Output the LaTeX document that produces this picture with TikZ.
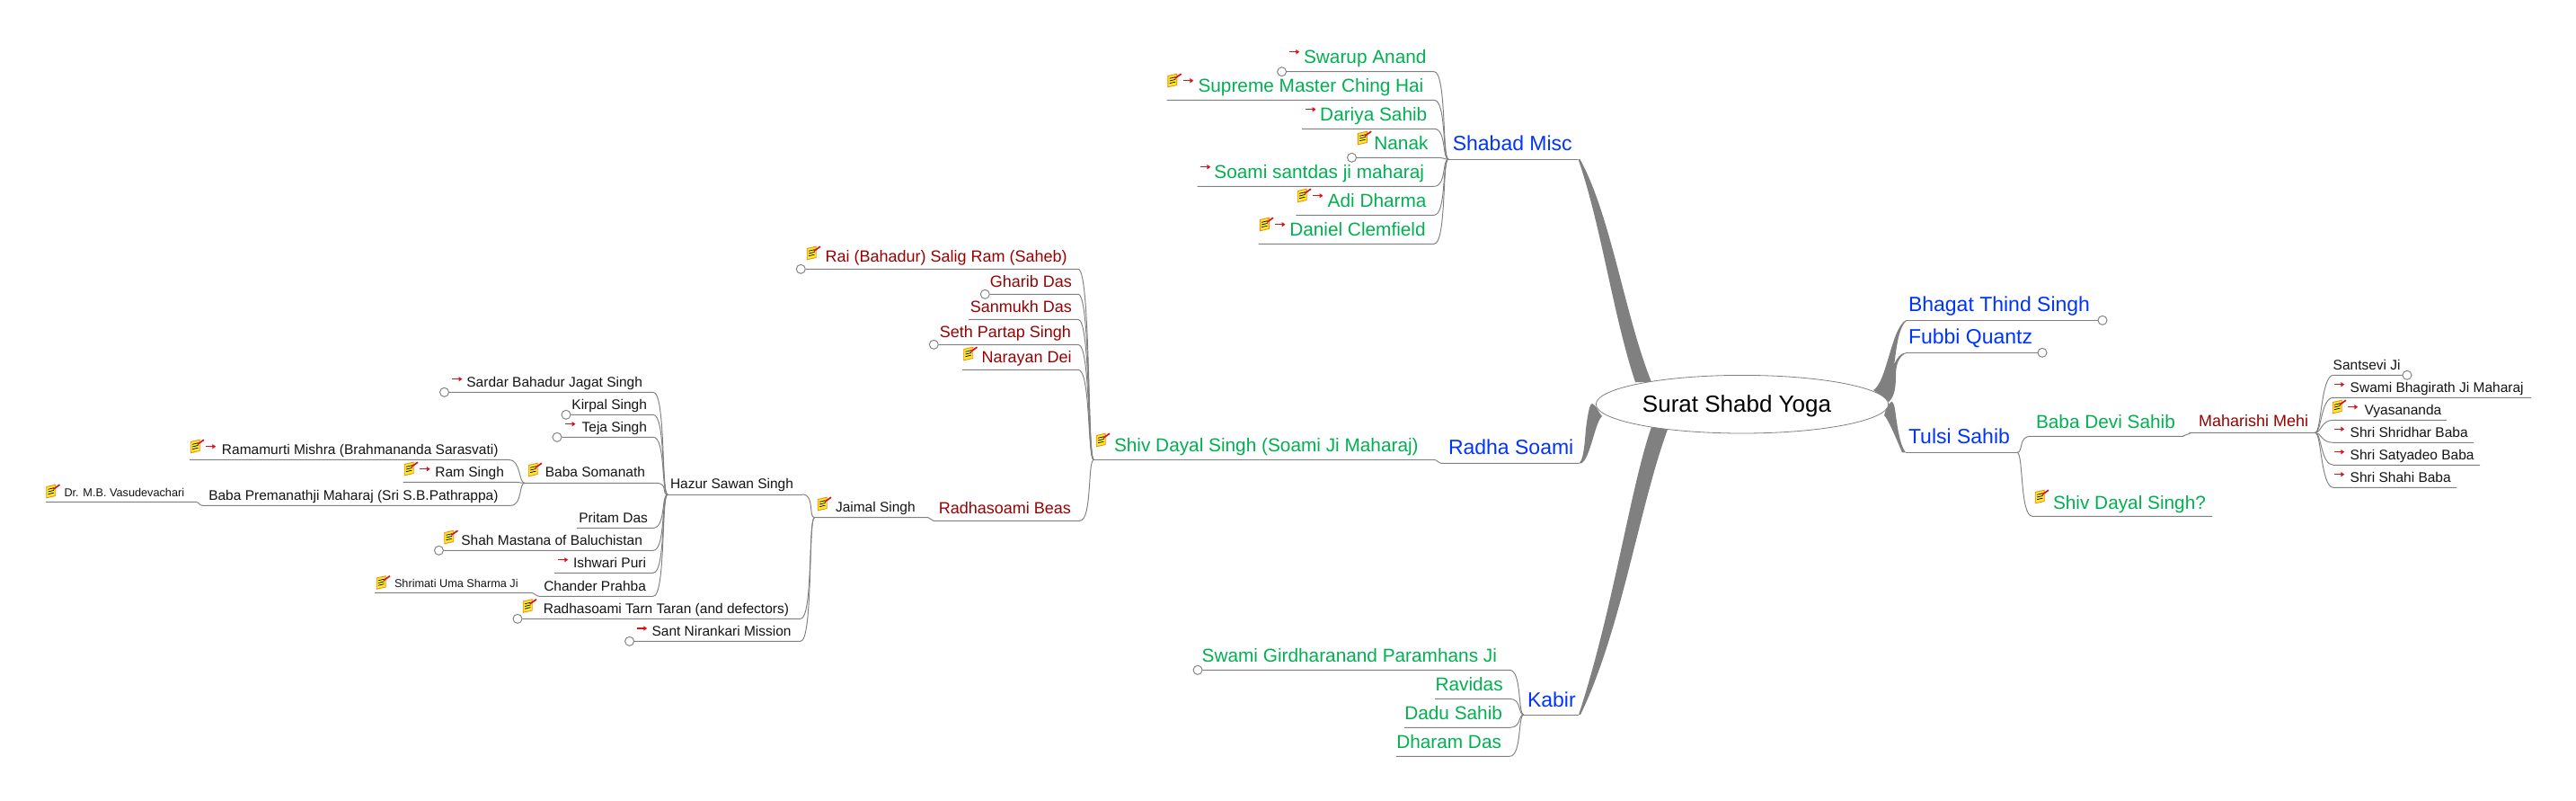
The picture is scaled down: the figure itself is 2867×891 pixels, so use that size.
\documentclass[tikz,border=0pt]{standalone}
\usepackage{fontspec}
\setmainfont{Liberation Sans}
\usetikzlibrary{shapes.geometric}
\definecolor{lnk}{RGB}{128,128,128}
\definecolor{tb}{RGB}{0,51,255}
\definecolor{tg}{RGB}{0,176,80}
\definecolor{tr}{RGB}{153,0,0}
\definecolor{tk}{RGB}{20,20,20}
\definecolor{noteY}{RGB}{255,235,40}
\definecolor{noteO}{RGB}{240,140,20}
\definecolor{pen}{RGB}{215,20,30}
\tikzset{
  link/.style={draw=lnk,line width=0.95pt},
  swoosh/.style={fill=lnk,draw=none},
  sw/.style={out=0,in=180,out distance=14pt,in distance=7pt},
  swr/.style={out=0,in=180,out distance=7pt,in distance=14pt},
  bump/.style={out=0,in=180,out distance=3pt,in distance=3pt},
  endc/.style={circle,draw=lnk,fill=white,line width=0.95pt,minimum size=10pt,inner sep=0pt},
  lbl/.style={inner sep=0pt,outer sep=0pt},
  le/.style={lbl,anchor=base east},
  ri/.style={lbl,anchor=base west},
  tblue/.style={text=tb,font=\fontsize{23}{23}\selectfont},
  tgreen/.style={text=tg,font=\fontsize{20.8}{20.8}\selectfont},
  tred/.style={text=tr,font=\fontsize{18}{18}\selectfont},
  tblack/.style={text=tk,font=\fontsize{15.5}{15.5}\selectfont},
  tsmall/.style={text=tk,font=\fontsize{12.7}{12.7}\selectfont},
  note/.pic={
    \filldraw[fill=noteY,draw=noteO,line width=0.9pt] (-7.3,-5)--(2.7,-7.3)--(2.7,5)--(-7.3,7.3)--cycle;
    \draw[black,line width=0.7pt] (-5.5,-2.2)--(1,-3.8) (-5.5,0.5)--(1,-1.1) (-5.5,3.2)--(1,1.6);
    \draw[pen,line width=1.7pt] (0.3,-2.3)--(7.5,-7.3);
  },
  redarr/.pic={
    \draw[pen,line width=1.2pt] (-5.7,0)--(3,0);
    \fill[pen] (1.8,-2.7)--(5.7,0)--(1.8,2.7)--cycle;
  }
}
% name, start x, end x, y, junction
\newcommand{\lbranch}[5]{\coordinate (#1S) at (#2,#4); \coordinate (#1E) at (#3,#4);
  \draw[link] (#1S) -- (#1E) to[sw] (#5);}
% same, with an open circle at the free end
\newcommand{\cbranch}[5]{\node[endc] (#1C) at (#2,#4) {}; \coordinate (#1E) at (#3,#4);
  \draw[link] (#1C) -- (#1E) to[sw] (#5);}
% junction, start x, end x, y, name
\newcommand{\rbranch}[5]{\coordinate (#5S) at (#2,#4); \coordinate (#5E) at (#3,#4);
  \draw[link] (#1) to[swr] (#5S) -- (#5E);}
\begin{document}
\begin{tikzpicture}[x=1pt,y=-1pt]
\useasboundingbox (0,0) rectangle (2867,891);
% junctions
\coordinate (jShabad) at (1612,177);
\coordinate (tShabad) at (1756.4,177);
\coordinate (jKabir) at (1696,795);
\coordinate (tKabir) at (1757,795);
\coordinate (jShiv) at (1217.3,511.5);
\coordinate (bShivA) at (1596.5,511.5);
\coordinate (bShivB) at (1604,515.3);
\coordinate (tRadha) at (1757.5,515.3);
\coordinate (jJaimal) at (906.5,575.7);
\coordinate (bBeasA) at (1033,575.7);
\coordinate (bBeasB) at (1039,579.3);
\coordinate (bBeasC) at (1201.7,579.3);
\coordinate (jHazur) at (743,550);
\coordinate (jSoma) at (584,537.3);
\coordinate (bSomaE) at (730,537.3);
\coordinate (bHazurE) at (893,550);
\coordinate (tBhagat) at (2121,356.3);
\coordinate (tFubbi) at (2121,392.3);
\coordinate (tTulsi) at (2121,503.3);
\coordinate (jTulsi) at (2245,503.3);
\coordinate (bDeviA) at (2430,485.3);
\coordinate (bDeviB) at (2438,481.3);
\coordinate (jMehi) at (2576.7,481.3);

% swooshes from the central ellipse
\fill[swoosh] (tShabad) .. controls (1782,250) and (1795,350) .. (1820,425) -- (1838,425) .. controls (1808,350) and (1793,240) .. (1758.4,177) -- cycle;
\fill[swoosh] (1838,475) .. controls (1815,540) and (1795,680) .. (tKabir) -- (1759,795) .. controls (1805,700) and (1825,560) .. (1857,475) -- cycle;
\fill[swoosh] (tRadha) .. controls (1764,510) and (1764,480) .. (1766,470) .. controls (1768,455) and (1770,449) .. (1772,449) .. controls (1776,450) and (1778,457) .. (1783,463) .. controls (1775,470) and (1770,510) .. (1760,515.3) -- cycle;
\fill[swoosh] (2085,434) .. controls (2100,425) and (2105,365) .. (tBhagat) -- (2123,356.3) .. controls (2112,362) and (2110,395) .. (2108,406) .. controls (2111,398) and (2115,393) .. (tFubbi) -- (2123,392.3) .. controls (2111,396) and (2110,410) .. (2110,418) .. controls (2110,432) and (2108,442) .. (2102,447) -- cycle;
\fill[swoosh] (2097,462) .. controls (2101,466) and (2108,482) .. (2117,503.3) -- (tTulsi) .. controls (2114,495) and (2111,470) .. (2109,455) .. controls (2108,450) and (2107,447) .. (2105,446.7) -- (2100,452) -- cycle;

% main branches
\draw[link] (jShabad) -- (tShabad);
\draw[link] (jKabir) -- (tKabir);
\draw[link] (jShiv) -- (bShivA) to[bump] (bShivB) -- (tRadha);
\draw[link] (jJaimal) -- (bBeasA) to[bump] (bBeasB) -- (bBeasC) to[sw] (jShiv);
\draw[link] (bHazurE) to[sw] (jJaimal);
\draw[link] (jHazur) -- (bHazurE);
\draw[link] (jSoma) -- (bSomaE) to[sw] (jHazur);
\draw[link] (jMehi) -- (bDeviB) to[bump] (bDeviA);
\draw[link] (tTulsi) -- (jTulsi);
\rbranch{jTulsi}{2260}{2430}{485.3}{bDevi}
\rbranch{jTulsi}{2262}{2462}{574.3}{bShivQ}
% Shabad Misc
\cbranch{swarup}{1426.6}{1596}{79.7}{jShabad}
\lbranch{supreme}{1298.5}{1596}{111.3}{jShabad}
\lbranch{dariya}{1449}{1596}{143.3}{jShabad}
\cbranch{nanak}{1504.5}{1596}{175.3}{jShabad}
\lbranch{soami}{1332.5}{1596}{207.3}{jShabad}
\lbranch{adi}{1442.4}{1596}{239.3}{jShabad}
\lbranch{daniel}{1400.5}{1596}{271.3}{jShabad}
% Shiv Dayal
\cbranch{rai}{891.3}{1200}{299.3}{jShiv}
\cbranch{gharib}{1096.3}{1200}{327.3}{jShiv}
\lbranch{sanmukh}{1078}{1200}{355.3}{jShiv}
\cbranch{seth}{1039.3}{1200}{383.3}{jShiv}
\lbranch{narayan}{1071}{1200}{411.3}{jShiv}
% Jaimal
\cbranch{tarn}{576}{891}{688.3}{jJaimal}
\cbranch{sant}{700.6}{891}{713.3}{jJaimal}
% Hazur
\cbranch{sardar}{494.5}{727}{436.3}{jHazur}
\cbranch{kirpal}{630}{727}{461.3}{jHazur}
\cbranch{teja}{620}{727}{486.3}{jHazur}
\lbranch{pritam}{642}{727}{587.3}{jHazur}
\cbranch{shah}{488.5}{727}{612.3}{jHazur}
\lbranch{ishwari}{617}{727}{637.3}{jHazur}
\lbranch{chander}{600}{727}{663.3}{jHazur}
\coordinate (umaS) at (417,659.3); \coordinate (umaE) at (591,659.3);
\draw[link] (umaS) -- (umaE) to[bump] (chanderS);
% Somanath
\lbranch{ramamurti}{211}{566}{511.3}{jSoma}
\lbranch{ramsingh}{448.5}{568}{536.3}{jSoma}
\lbranch{prema}{225}{568}{562.3}{jSoma}
\coordinate (drS) at (51,558.3); \coordinate (drE) at (218,558.3);
\draw[link] (drS) -- (drE) to[bump] (premaS);
% Kabir
\cbranch{girdhar}{1333}{1680}{745.3}{jKabir}
\lbranch{ravidas}{1597}{1680}{777.3}{jKabir}
\lbranch{dadu}{1563}{1680}{809.3}{jKabir}
\lbranch{dharam}{1554}{1680}{841.3}{jKabir}
% Mehi
\coordinate (mEnd) at (2597,417.3);
\node[endc] (santseviC) at (2679,417.3) {};
\draw[link] (jMehi) to[swr] (mEnd) -- (santseviC);
\rbranch{jMehi}{2597}{2817}{442.3}{bhagirath}
\rbranch{jMehi}{2597}{2723}{467.3}{vyasa}
\rbranch{jMehi}{2597}{2753}{492.3}{shridhar}
\rbranch{jMehi}{2597}{2760}{517.3}{satyadeo}
\rbranch{jMehi}{2597}{2734}{542.3}{shahi}
% right circles
\node[endc] (bhagatC) at (2340,356.3) {};
\node[endc] (fubbiC) at (2273,392.3) {};
\draw[link] (tBhagat) -- (bhagatC);
\draw[link] (tFubbi) -- (fubbiC);

% central topic
\node[ellipse,draw=lnk,fill=white,line width=0.8pt,minimum width=325.4pt,minimum height=64.6pt,inner sep=0pt] (hub) at (1939,449.7) {};
\node[lbl,text=black,font=\fontsize{26}{26}\selectfont,anchor=base] (hubText) at (1933,458.5) {Surat Shabd Yoga};

% blue labels
\node[tblue,ri] (lShabad) at (1616.8,167) {Shabad Misc};
\node[tblue,ri] (lRadha) at (1612,505.7) {Radha Soami};
\node[tblue,ri] (lKabir) at (1700,786) {Kabir};
\node[tblue,ri] (lBhagat) at (2124,346.7) {Bhagat Thind Singh};
\node[tblue,ri] (lFubbi) at (2124,382.7) {Fubbi Quantz};
\node[tblue,ri] (lTulsi) at (2124,493.7) {Tulsi Sahib};
% green labels
\node[tgreen,le] (lSwarup) at (1587.5,70.7) {Swarup Anand};
\node[tgreen,le] (lSupreme) at (1584.4,102.3) {Supreme Master Ching Hai};
\node[tgreen,le] (lDariya) at (1588.3,134.3) {Dariya Sahib};
\node[tgreen,le] (lNanak) at (1589.5,166.3) {Nanak};
\node[tgreen,le] (lSoami) at (1585,198.3) {Soami santdas ji maharaj};
\node[tgreen,le] (lAdi) at (1587.5,230.3) {Adi Dharma};
\node[tgreen,le] (lDaniel) at (1586.7,262.3) {Daniel Clemfield};
\node[tgreen,ri] (lShiv) at (1240,502.7) {Shiv Dayal Singh (Soami Ji Maharaj)};
\node[tgreen,le] (lGirdhar) at (1666,736.7) {Swami Girdharanand Paramhans Ji};
\node[tgreen,le] (lRavidas) at (1672.7,768.7) {Ravidas};
\node[tgreen,le] (lDadu) at (1672,800.7) {Dadu Sahib};
\node[tgreen,le] (lDharam) at (1671,832.7) {Dharam Das};
\node[tgreen,ri] (lDevi) at (2266,476.7) {Baba Devi Sahib};
\node[tgreen,ri] (lShivQ) at (2285,566) {Shiv Dayal Singh?};
% red labels
\node[tred,le] (lRai) at (1187.7,291.7) {Rai (Bahadur) Salig Ram (Saheb)};
\node[tred,le] (lGharib) at (1193,319.7) {Gharib Das};
\node[tred,le] (lSanmukh) at (1193,347.7) {Sanmukh Das};
\node[tred,le] (lSeth) at (1192,375.7) {Seth Partap Singh};
\node[tred,le] (lNarayan) at (1192.6,403.7) {Narayan Dei};
\node[tred,le] (lBeas) at (1192,571.7) {Radhasoami Beas};
\node[tred,ri] (lMehi) at (2447,474.3) {Maharishi Mehi};
% black labels
\node[tblack,ri] (lJaimal) at (930,569) {Jaimal Singh};
\node[tblack,ri] (lHazur) at (746,543.5) {Hazur Sawan Singh};
\node[tblack,le] (lSardar) at (715,430) {Sardar Bahadur Jagat Singh};
\node[tblack,le] (lKirpal) at (720,455) {Kirpal Singh};
\node[tblack,le] (lTeja) at (720,480) {Teja Singh};
\node[tblack,le] (lRamamurti) at (554.5,505) {Ramamurti Mishra (Brahmananda Sarasvati)};
\node[tblack,le] (lRam) at (561,530) {Ram Singh};
\node[tblack,le] (lSoma) at (718,530.8) {Baba Somanath};
\node[tblack,le] (lPrema) at (554.5,556) {Baba Premanathji Maharaj (Sri S.B.Pathrappa)};
\node[tsmall,ri] (lDr) at (71.5,552.5) {Dr. M.B. Vasudevachari};
\node[tblack,le] (lPritam) at (721,581) {Pritam Das};
\node[tblack,le] (lShah) at (715,606) {Shah Mastana of Baluchistan};
\node[tblack,le] (lIshwari) at (719,631) {Ishwari Puri};
\node[tblack,le] (lChander) at (719,657) {Chander Prahba};
\node[tsmall,ri] (lUma) at (439,653.5) {Shrimati Uma Sharma Ji};
\node[tblack,le] (lTarn) at (878,682) {Radhasoami Tarn Taran (and defectors)};
\node[tblack,le] (lSant) at (880.6,707) {Sant Nirankari Mission};
\node[tblack,ri] (lSantsevi) at (2596.7,411) {Santsevi Ji};
\node[tblack,ri] (lBhagirath) at (2615.7,436.7) {Swami Bhagirath Ji Maharaj};
\node[tblack,ri] (lVyasa) at (2631.7,461) {Vyasananda};
\node[tblack,ri] (lShridhar) at (2615.7,486) {Shri Shridhar Baba};
\node[tblack,ri] (lSatyadeo) at (2615.7,511) {Shri Satyadeo Baba};
\node[tblack,ri] (lShahi) at (2615.7,536) {Shri Shahi Baba};

% note icons
\foreach \p in {(219.5,496.5),(457.5,521.5),(595.5,522.5),(59,546.5),(502,597.5),(426.5,648),(589.5,674),(917.5,560.5),(905.5,281.5),(1080,393.5),(1227.5,489.5),(1307.2,89.5),(1518.7,153.5),(1451.5,217.5),(1409.6,249.5),(2272.5,552.5),(2603.5,452.5)}
  \pic at \p {note};
% red arrows
\foreach \p in {(234.5,496.7),(473,521.7),(508.7,421.7),(634.8,471.7),(626.5,622.7),(714.5,699),(1440.5,57.7),(1322.6,89.7),(1458.8,121.7),(1341.6,185.7),(1466.7,217.7),(1424.8,249.7),(2603.5,427.7),(2618.5,452.7),(2603.5,477.3),(2603.5,502.7),(2603.5,527.7)}
  \pic at \p {redarr};
\end{tikzpicture}
\end{document}
